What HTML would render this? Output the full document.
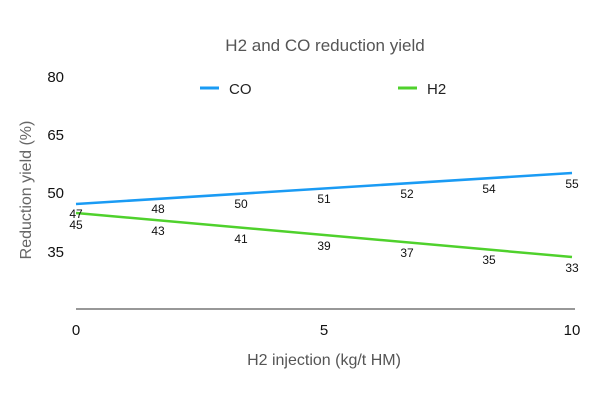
<!DOCTYPE html><html><head><style>body{margin:0;background:#fff}text{font-family:"Liberation Sans",sans-serif}</style></head><body>
<svg width="600" height="400" xmlns="http://www.w3.org/2000/svg">
<text x="325" y="51" font-size="17" fill="#555" text-anchor="middle">H2 and CO reduction yield</text>
<line x1="200" y1="88" x2="219" y2="88" stroke="#1a9bf4" stroke-width="3"/>
<text x="229" y="94" font-size="15" fill="#222">CO</text>
<line x1="398" y1="88" x2="417" y2="88" stroke="#4fd12c" stroke-width="3"/>
<text x="427" y="94" font-size="15" fill="#222">H2</text>
<g font-size="15" fill="#111" text-anchor="end"><text x="64" y="82">80</text><text x="64" y="140">65</text><text x="64" y="198">50</text><text x="64" y="257">35</text></g>
<text transform="translate(31,190) rotate(-90)" font-size="16" fill="#666" text-anchor="middle">Reduction yield (%)</text>
<line x1="76" y1="309" x2="575" y2="309" stroke="#777" stroke-width="1.5"/>
<g font-size="15" fill="#111" text-anchor="middle"><text x="76" y="335">0</text><text x="324" y="335">5</text><text x="572" y="335">10</text></g>
<text x="324" y="365" font-size="16" fill="#555" text-anchor="middle">H2 injection (kg/t HM)</text>
<line x1="76" y1="204" x2="572" y2="173" stroke="#1a9bf4" stroke-width="2.5"/>
<line x1="76" y1="213" x2="572" y2="257" stroke="#4fd12c" stroke-width="2.5"/>
<g font-size="12" fill="#111" text-anchor="middle">
<text x="76" y="218">47</text><text x="158" y="213">48</text><text x="241" y="208">50</text><text x="324" y="203">51</text><text x="407" y="198">52</text><text x="489" y="193">54</text><text x="572" y="188">55</text>
<text x="76" y="229">45</text><text x="158" y="235">43</text><text x="241" y="243">41</text><text x="324" y="250">39</text><text x="407" y="257">37</text><text x="489" y="264">35</text><text x="572" y="272">33</text>
</g>
</svg></body></html>
